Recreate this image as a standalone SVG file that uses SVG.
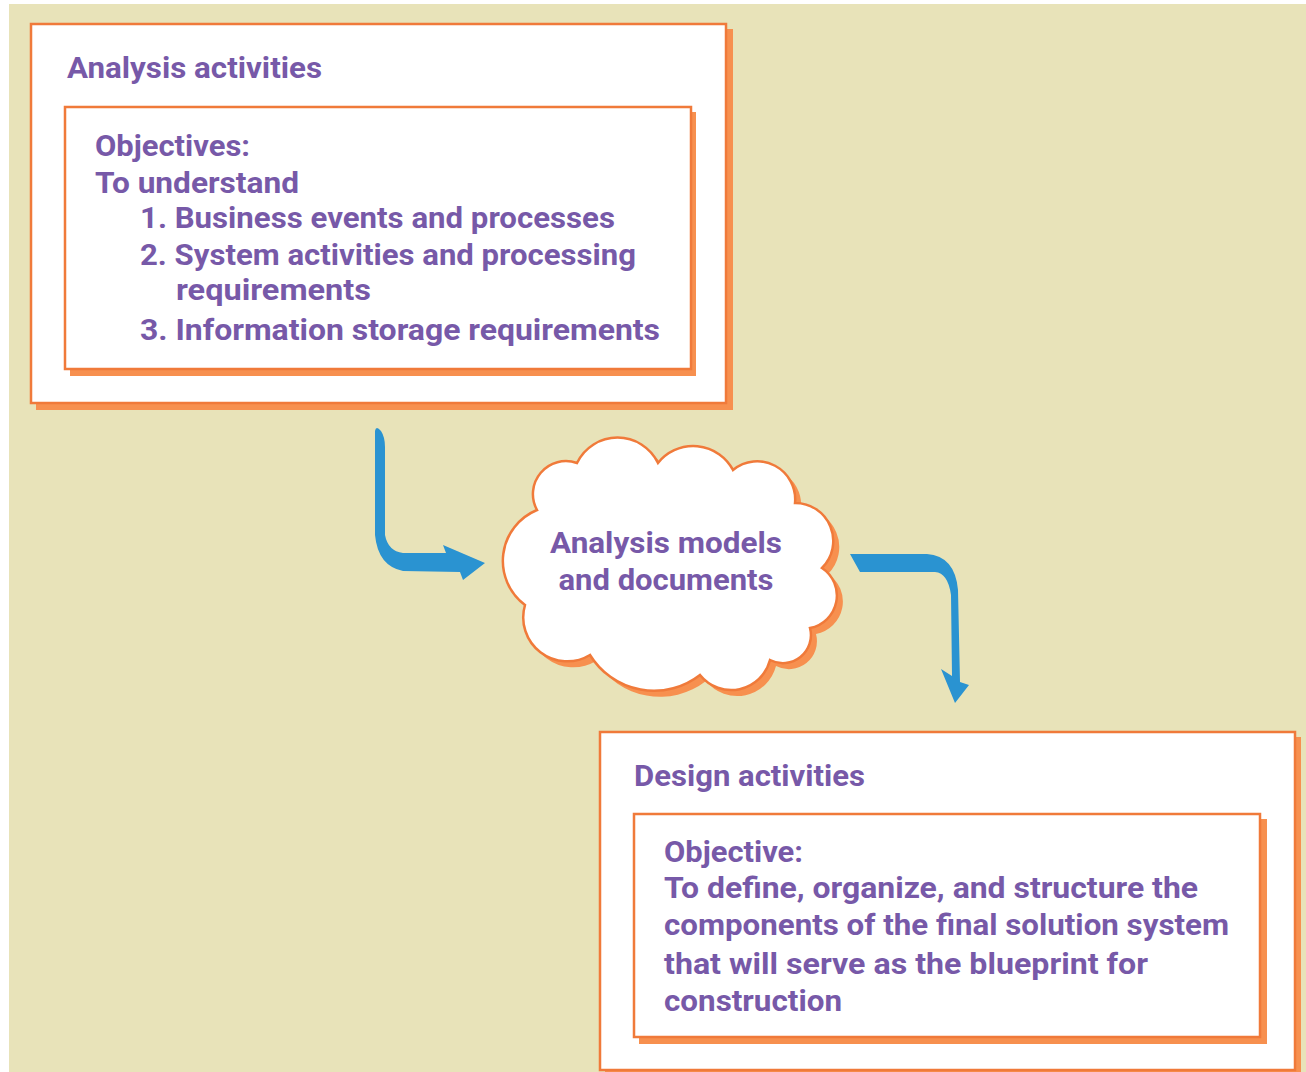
<svg xmlns="http://www.w3.org/2000/svg" width="1306" height="1072" viewBox="0 0 1306 1072">
<style>
.bg{fill:#e8e3b9}
.shadow{fill:#f7904f}
.box{fill:#ffffff;stroke:#f07a3a;stroke-width:2.5}
.t{font-family:Roboto,"Liberation Sans",sans-serif;font-weight:bold;font-size:29px;fill:#7759a8}
.arrow{fill:#2a93d1}
</style>
<rect x="0" y="0" width="1306" height="1072" fill="#ffffff"/>
<rect class="bg" x="9" y="4" width="1297" height="1068"/>

<g id="analysis-activities">
  <rect class="shadow" x="36" y="29" width="697" height="381"/>
  <rect class="box" x="31" y="24" width="695" height="379"/>
  <text class="t" x="67" y="78" textLength="255" lengthAdjust="spacingAndGlyphs">Analysis activities</text>
  <g id="analysis-objectives">
    <rect class="shadow" x="70" y="112" width="626" height="264"/>
    <rect class="box" x="65" y="107" width="626" height="262"/>
    <text class="t" x="95" y="156" textLength="155" lengthAdjust="spacingAndGlyphs">Objectives:</text>
    <text class="t" x="95" y="193" textLength="204" lengthAdjust="spacingAndGlyphs">To understand</text>
    <text class="t" x="140" y="228" textLength="475" lengthAdjust="spacingAndGlyphs">1. Business events and processes</text>
    <text class="t" x="140" y="265" textLength="496" lengthAdjust="spacingAndGlyphs">2. System activities and processing</text>
    <text class="t" x="176" y="300" textLength="195" lengthAdjust="spacingAndGlyphs">requirements</text>
    <text class="t" x="140" y="340" textLength="520" lengthAdjust="spacingAndGlyphs">3. Information storage requirements</text>
  </g>
</g>

<g id="analysis-models">
  <path class="shadow" transform="translate(6,6)" d="M537,510 A33,33 0 0 1 577,463 A45,45 0 0 1 658,463 A45,45 0 0 1 733,470 A38,38 0 0 1 795,503 A38,38 0 0 1 822,568 A33,33 0 0 1 810,628 A28,28 0 0 1 770,660 A40,40 0 0 1 700,675 A75,75 0 0 1 590,655 A44,44 0 0 1 525,605 A55,55 0 0 1 537,510 Z"/>
  <path class="box" d="M537,510 A33,33 0 0 1 577,463 A45,45 0 0 1 658,463 A45,45 0 0 1 733,470 A38,38 0 0 1 795,503 A38,38 0 0 1 822,568 A33,33 0 0 1 810,628 A28,28 0 0 1 770,660 A40,40 0 0 1 700,675 A75,75 0 0 1 590,655 A44,44 0 0 1 525,605 A55,55 0 0 1 537,510 Z"/>
  <text class="t" x="666" y="553" text-anchor="middle" textLength="232" lengthAdjust="spacingAndGlyphs">Analysis models</text>
  <text class="t" x="666" y="590" text-anchor="middle" textLength="215" lengthAdjust="spacingAndGlyphs">and documents</text>
</g>

<g id="design-activities">
  <rect class="shadow" x="605" y="737" width="696" height="340"/>
  <rect class="box" x="600" y="732" width="695" height="338"/>
  <text class="t" x="634" y="786" textLength="231" lengthAdjust="spacingAndGlyphs">Design activities</text>
  <g id="design-objective">
    <rect class="shadow" x="639" y="819" width="628" height="225"/>
    <rect class="box" x="634" y="814" width="626" height="223"/>
    <text class="t" x="664" y="862" textLength="139" lengthAdjust="spacingAndGlyphs">Objective:</text>
    <text class="t" x="664" y="898" textLength="534" lengthAdjust="spacingAndGlyphs">To define, organize, and structure the</text>
    <text class="t" x="664" y="935" textLength="565" lengthAdjust="spacingAndGlyphs">components of the final solution system</text>
    <text class="t" x="664" y="974" textLength="484" lengthAdjust="spacingAndGlyphs">that will serve as the blueprint for</text>
    <text class="t" x="664" y="1011" textLength="178" lengthAdjust="spacingAndGlyphs">construction</text>
  </g>
</g>

<g id="connectors">
  <path class="arrow" d="M375,431 Q376,425 381,431 Q385,437 385,447 L385,535 Q388,551 403,553 L446,553 L443,545 L485,563 L463,580 L460,572 L403,571 Q378,566 375,535 Z"/>
  <path class="arrow" d="M850,554 L927,554 Q955,556 958,590 L960,682 L969,685 L955,703 L941,669 L952,676 L951,595 Q948,573 935,572 L860,572 Z"/>
</g>
</svg>
